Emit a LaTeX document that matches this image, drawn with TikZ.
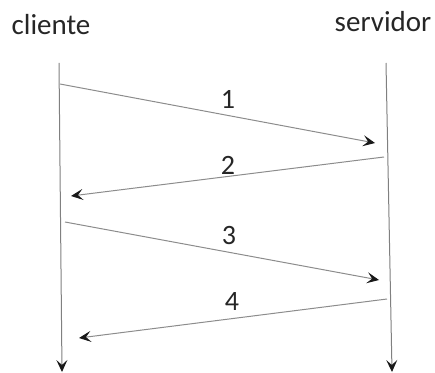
\documentclass[tikz,border=0pt]{standalone}
\usepackage{fontspec}
\setmainfont{Carlito}
\usetikzlibrary{arrows.meta}

\begin{document}
\begin{tikzpicture}
[x=1pt,y=1pt,
  nameDecorate/.style={inner sep=0pt,text=black!85,font=\fontsize{29}{34}\selectfont},%
  labelDecorate/.style={inner sep=0pt,text=black!85,font=\fontsize{28}{33}\selectfont},%
  lineDecorate/.style={-{Stealth[length=12pt,width=11pt,inset=5pt,color=black!90]},line width=1pt,draw=black!50},%
  msgDecorate/.style={lineDecorate,draw=black!45}]
\useasboundingbox (0,0) rectangle (435,372);
%% names
\node (cliente) at (51,347) [nameDecorate] {cliente};
\node (servidor) at (383,350) [nameDecorate] {servidor};
%% time lines
\coordinate (c0) at (59,309);
\coordinate (c1) at (62,0);
\coordinate (s0) at (386,309);
\coordinate (s1) at (392,0);
\draw[lineDecorate] (c0) -- (c1);
\draw[lineDecorate] (s0) -- (s1);
%% messages
\foreach \msg/\xa/\ya/\xb/\yb/\xl/\yl in {
  1/60/288/375/229/228/273, 2/384/215/71/176/228/207,
  3/65/150/379/92/229/136, 4/387/73/79/34/232/70}
{
  \coordinate (m\msg a) at (\xa,\ya);
  \coordinate (m\msg b) at (\xb,\yb);
  \node (l\msg) at (\xl,\yl) [labelDecorate] {\msg};
  \draw[msgDecorate] (m\msg a) -- (m\msg b);
}
\end{tikzpicture}
\end{document}
